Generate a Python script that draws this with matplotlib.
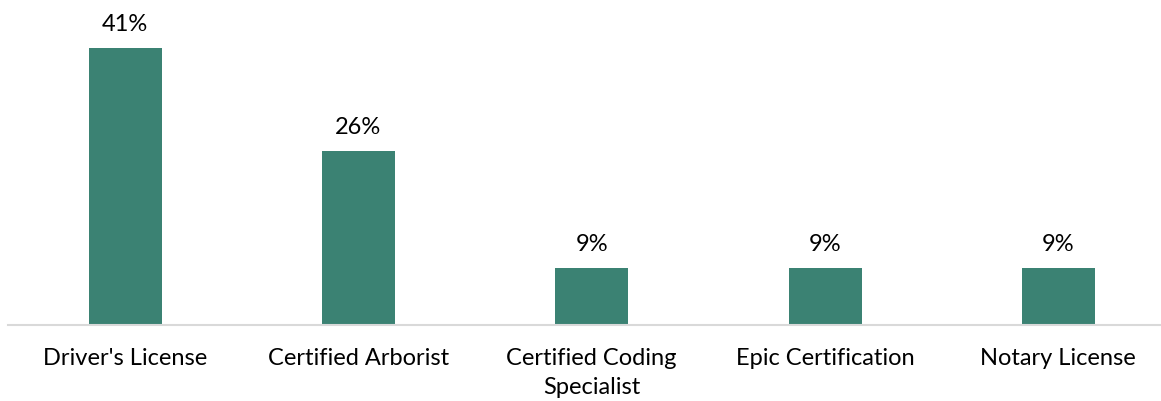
import matplotlib
matplotlib.use("Agg")
import matplotlib.pyplot as plt

categories = ["Driver's License", "Certified Arborist", "Certified Coding\nSpecialist",
              "Epic Certification", "Notary License"]
values = [41.0, 25.8, 8.5, 8.5, 8.5]
labels = ["41%", "26%", "9%", "9%", "9%"]

plt.rcParams['font.family'] = ['Lato', 'DejaVu Sans']

W, H = 1161, 402
fig = plt.figure(figsize=(W / 100, H / 100), dpi=100)
left, right, bottom, top = 8, 1161, 326, 11
ax = fig.add_axes([left / W, 1 - bottom / H, (right - left) / W, (bottom - top) / H])

x = list(range(len(categories)))
ax.bar(x, values, width=0.313, color="#3B8273", zorder=2)
ax.set_xlim(-0.502, 4.44)
ax.set_ylim(0, 46.6)

for xi, v, lab in zip(x, values, labels):
    ax.annotate(lab, (xi, v), xytext=(0, 10), textcoords="offset points",
                ha="center", va="bottom", fontsize=17, color="#000000")

ax.set_xticks(x)
ax.set_xticklabels(categories, fontsize=17, color="#000000", linespacing=1.45)
ax.tick_params(axis="x", length=0, pad=16)
ax.set_yticks([])
for s in ["top", "right", "left"]:
    ax.spines[s].set_visible(False)
ax.spines["bottom"].set_color("#D9D9D9")
ax.spines["bottom"].set_linewidth(1.5)

fig.savefig("out.png", dpi=100)
